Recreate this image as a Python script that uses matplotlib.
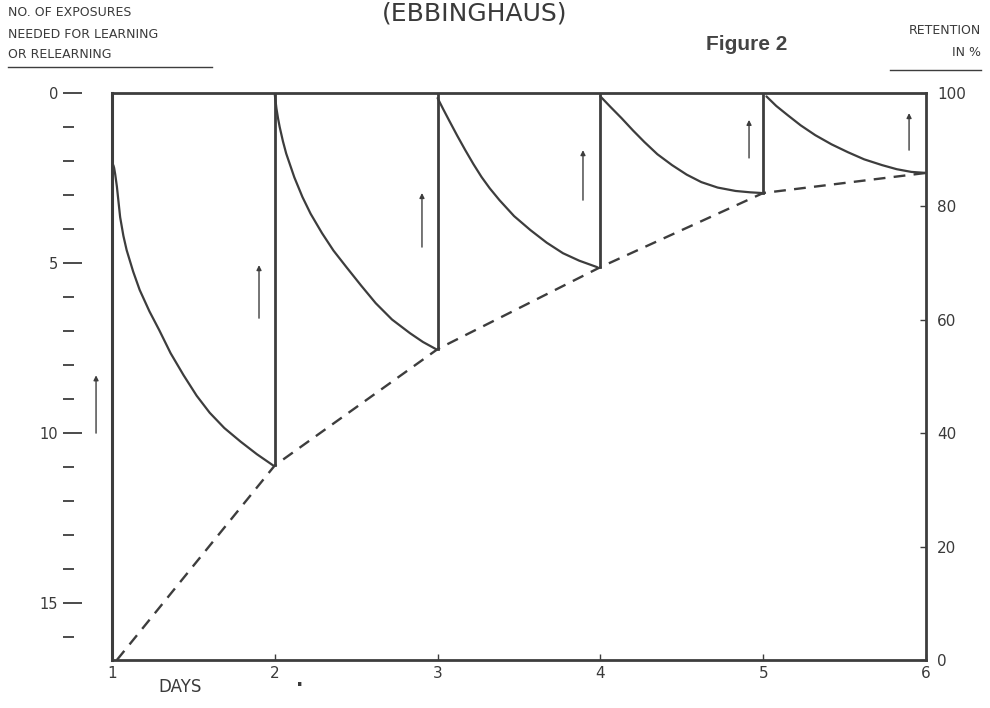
import matplotlib
matplotlib.use("Agg")
from matplotlib import pyplot as plt

plt.rcParams.update({
    "font.family": "DejaVu Sans",
    "font.size": 9,
    "text.color": "#3a3a3a",
})

INK = "#3d3d3d"

# forgetting curves after each learning session (day, exposures needed)
c1_x = [1.003, 1.008, 1.013, 1.02, 1.03, 1.04, 1.05, 1.07, 1.09, 1.13, 1.17, 1.23,
        1.29, 1.36, 1.44, 1.52, 1.60, 1.69, 1.79, 1.89, 1.99]
c1_y = [2.1, 2.12, 2.2, 2.4, 2.75, 3.2, 3.65, 4.2, 4.62, 5.25, 5.79, 6.42,
        6.97, 7.65, 8.3, 8.9, 9.4, 9.85, 10.25, 10.62, 10.95]
c2_x = [2.0, 2.01, 2.02, 2.03, 2.05, 2.07, 2.09, 2.12, 2.17, 2.22, 2.29, 2.36,
        2.44, 2.53, 2.62, 2.72, 2.83, 2.91, 2.99]
c2_y = [0.05, 0.45, 0.75, 1.0, 1.42, 1.78, 2.06, 2.48, 3.06, 3.55, 4.12, 4.63,
        5.12, 5.66, 6.18, 6.66, 7.06, 7.32, 7.53]
c3_x = [3.0, 3.035, 3.07, 3.12, 3.17, 3.22, 3.27, 3.32, 3.38, 3.47, 3.57, 3.67,
        3.77, 3.87, 3.98]
c3_y = [0.15, 0.48, 0.8, 1.25, 1.68, 2.09, 2.47, 2.8, 3.15, 3.62, 4.03, 4.4,
        4.71, 4.93, 5.12]
c4_x = [4.0, 4.06, 4.13, 4.2, 4.27, 4.35, 4.44, 4.53, 4.62, 4.72, 4.83, 4.92, 4.99]
c4_y = [0.1, 0.4, 0.74, 1.1, 1.44, 1.8, 2.12, 2.4, 2.62, 2.78, 2.88, 2.92, 2.94]
c5_x = [5.02, 5.08, 5.15, 5.23, 5.32, 5.42, 5.52, 5.62, 5.73, 5.82, 5.91, 6.0]
c5_y = [0.1, 0.38, 0.65, 0.95, 1.24, 1.51, 1.74, 1.95, 2.12, 2.24, 2.32, 2.35]
curves = [(c1_x, c1_y), (c2_x, c2_y), (c3_x, c3_y), (c4_x, c4_y), (c5_x, c5_y)]

# relearning steps (vertical lines back to 0)
step_days = [2, 3, 4, 5]
step_from = [10.95, 7.53, 5.12, 2.94]

# dashed envelope
dash_x = [1.03, 2.0, 3.0, 4.0, 5.0, 6.0]
dash_y = [16.67, 10.95, 7.53, 5.12, 2.94, 2.35]

# small upward arrows
arrow_x = [0.902, 1.903, 2.904, 3.893, 4.913, 5.896]
arrow_y0 = [10.0, 6.62, 4.53, 3.15, 1.91, 1.68]
arrow_y1 = [8.3, 5.06, 2.94, 1.68, 0.79, 0.59]

day_ticks = [1, 2, 3, 4, 5, 6]
left_major = [0, 5, 10, 15]
left_minor = list(range(0, 17))
right_ticks = [0, 20, 40, 60, 80, 100]

fig = plt.figure(figsize=(9.9, 7.08), dpi=100)
ax = fig.add_axes([112 / 990, 1 - 660 / 708, (926 - 112) / 990, (660 - 93) / 708])
ax.set_xlim(1, 6)
ax.set_ylim(16.67, 0)

for cx, cy in curves:
    ax.plot(cx, cy, color=INK, lw=1.6, solid_capstyle="round", solid_joinstyle="round")
for d, f in zip(step_days, step_from):
    ax.plot([d, d], [f, 0], color=INK, lw=2.0)
ax.plot(dash_x, dash_y, color=INK, lw=1.7, ls=(0, (5, 3.5)))
ax.plot([1, 1], [0, 16.67], color=INK, lw=2.2, clip_on=False)

for x, y0, y1 in zip(arrow_x, arrow_y0, arrow_y1):
    ax.annotate("", xy=(x, y1), xytext=(x, y0),
                arrowprops=dict(arrowstyle="-|>", color=INK, lw=1.0,
                                mutation_scale=7, shrinkA=0, shrinkB=0),
                annotation_clip=False)

# frame
for s in ["top", "right", "bottom"]:
    ax.spines[s].set_color(INK)
    ax.spines[s].set_linewidth(2.0)
ax.spines["left"].set_position(("outward", 35.3))
ax.spines["left"].set_visible(False)

ax.set_yticks(left_major, [str(v) for v in left_major])
ax.set_yticks(left_minor, minor=True)
ax.yaxis.set_minor_formatter(plt.NullFormatter())
ax.tick_params(axis="y", which="major", direction="in", length=14, width=1.3,
               color=INK, pad=3.5, labelsize=10.5, labelcolor="#3a3a3a")
ax.tick_params(axis="y", which="minor", direction="in", length=8, width=1.3, color=INK)

ax.set_xticks(day_ticks, [str(v) for v in day_ticks])
ax.tick_params(axis="x", direction="in", length=4, width=1.0, color=INK,
               pad=4, labelsize=11, labelcolor="#3a3a3a")

ax2 = ax.twinx()
ax2.set_ylim(0, 100)
for s in ax2.spines.values():
    s.set_visible(False)
ax2.set_yticks(right_ticks, [str(v) for v in right_ticks])
ax2.tick_params(axis="y", direction="in", length=4, width=1.0, color=INK,
                pad=8, labelsize=11, labelcolor="#3a3a3a")

# texts
fig.text(475 / 990, 1 - 21 / 708, "(EBBINGHAUS)", ha="center", va="baseline",
         fontsize=18)
fig.text(8 / 990, 1 - 13 / 708, "NO. OF EXPOSURES", ha="left", va="center", fontsize=9)
fig.text(8 / 990, 1 - 34 / 708, "NEEDED FOR LEARNING", ha="left", va="center", fontsize=9)
fig.text(8 / 990, 1 - 55 / 708, "OR RELEARNING", ha="left", va="center", fontsize=9)
fig.add_artist(plt.Line2D([8 / 990, 212 / 990], [1 - 67 / 708, 1 - 67 / 708],
                          color=INK, lw=1.0))
fig.text(747 / 990, 1 - 45 / 708, "Figure 2", ha="center", va="center",
         fontsize=15, fontweight="bold", family="Liberation Sans", color="#444444")
fig.text(981 / 990, 1 - 31 / 708, "RETENTION", ha="right", va="center", fontsize=9)
fig.text(981 / 990, 1 - 53 / 708, "IN %", ha="right", va="center", fontsize=9)
fig.add_artist(plt.Line2D([890 / 990, 981 / 990], [1 - 70 / 708, 1 - 70 / 708],
                          color=INK, lw=1.0))
fig.text(180 / 990, 1 - 687 / 708, "DAYS", ha="center", va="center", fontsize=12)
fig.text(300 / 990, 1 - 680 / 708, ".", ha="center", va="center", fontsize=14,
         fontweight="bold")

fig.savefig("out.png", dpi=100, facecolor="white")
